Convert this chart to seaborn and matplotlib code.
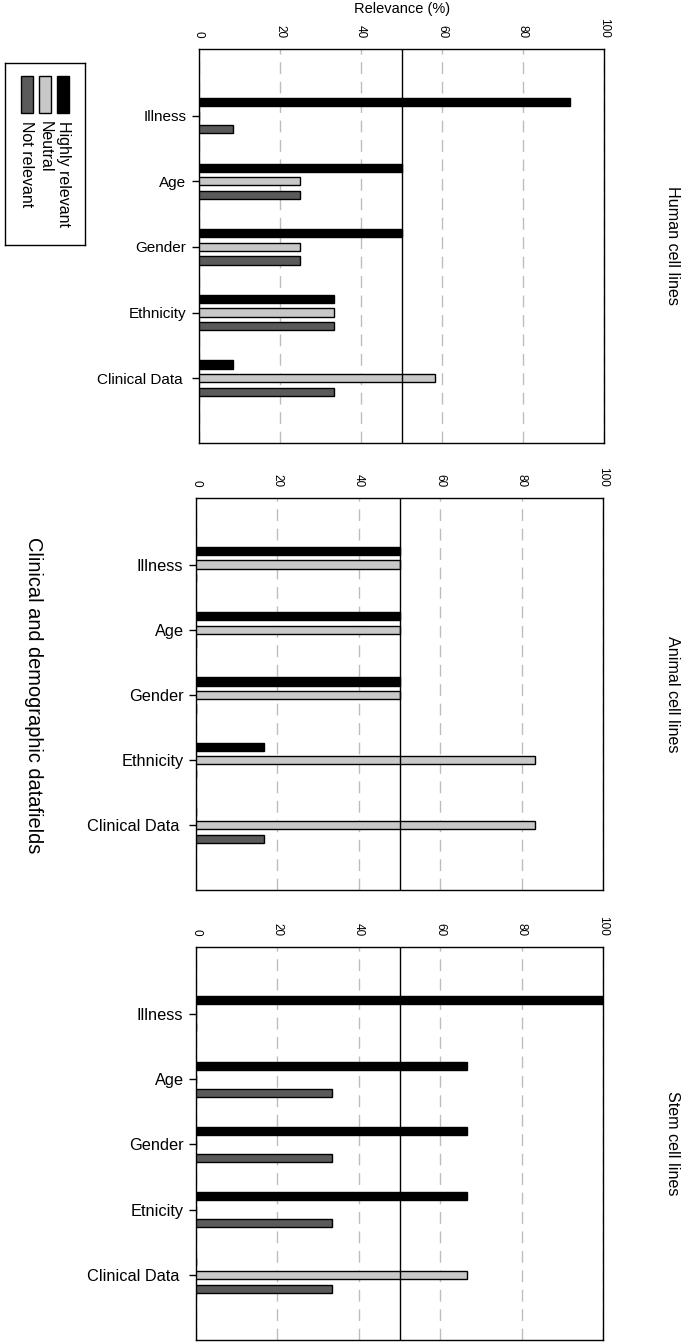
import numpy as np
import pandas as pd
import seaborn as sns
import matplotlib.pyplot as plt
from matplotlib.patches import Rectangle

# categories and relevance levels
fields_human = ["Illness", "Age", "Gender", "Ethnicity", "Clinical Data "]
fields_animal = ["Illness", "Age", "Gender", "Ethnicity", "Clinical Data "]
fields_stem = ["Illness", "Age", "Gender", "Etnicity", "Clinical Data "]
levels = ["Highly relevant", "Neutral", "Not relevant"]

# relevance (%) per field, one list per level
human_high = [91.7, 50.0, 50.0, 33.3, 8.3]
human_neutral = [0.0, 25.0, 25.0, 33.3, 58.3]
human_not = [8.3, 25.0, 25.0, 33.3, 33.3]

animal_high = [50.0, 50.0, 50.0, 16.7, 0.0]
animal_neutral = [50.0, 50.0, 50.0, 83.3, 83.3]
animal_not = [0.0, 0.0, 0.0, 0.0, 16.7]

stem_high = [100.0, 66.7, 66.7, 66.7, 0.0]
stem_neutral = [0.0, 0.0, 0.0, 0.0, 66.7]
stem_not = [0.0, 33.3, 33.3, 33.3, 33.3]

panel_titles = ["Human cell lines", "Animal cell lines", "Stem cell lines"]
threshold = 50
xticks = [0, 20, 40, 60, 80, 100]

colors = {"Highly relevant": "#000000", "Neutral": "#c8c8c8", "Not relevant": "#5a5a5a"}


def long_table(fields, high, neutral, notrel):
    rows = []
    for lev, vals in zip(levels, [high, neutral, notrel]):
        for f, v in zip(fields, vals):
            rows.append({"field": f, "level": lev, "value": v})
    return pd.DataFrame(rows)


panels = [
    long_table(fields_human, human_high, human_neutral, human_not),
    long_table(fields_animal, animal_high, animal_neutral, animal_not),
    long_table(fields_stem, stem_high, stem_neutral, stem_not),
]
panel_fields = [fields_human, fields_animal, fields_stem]

sns.set_style("white")
plt.rcParams["font.family"] = ["Liberation Sans", "DejaVu Sans"]
plt.rcParams["text.color"] = "black"
plt.rcParams["xtick.color"] = "black"
plt.rcParams["ytick.color"] = "black"
plt.rcParams["axes.labelcolor"] = "black"

W, H = 684, 1344
fig = plt.figure(figsize=(W / 100, H / 100), dpi=100)

# axes boxes in pixels: left, top, right, bottom
boxes = [(199, 49, 604, 443), (196, 498, 603, 890), (196, 947, 603, 1340)]
label_sizes = [11, 11.8, 11.8]

for i, (df, box) in enumerate(zip(panels, boxes)):
    l, t, r, b = box
    ax = fig.add_axes([l / W, 1 - b / H, (r - l) / W, (b - t) / H])
    sns.barplot(data=df, x="value", y="field", hue="level", hue_order=levels,
                order=panel_fields[i], palette=colors, orient="h",
                width=0.62, gap=0.4, edgecolor="black", linewidth=1.0,
                legend=False, ax=ax, zorder=3)
    ax.set_xlim(0, 100)
    ax.set_ylim(4.99, -1.02)
    ax.set_xticks(xticks)
    ax.set_xticklabels([str(v) for v in xticks], rotation=-90)
    ax.xaxis.tick_top()
    ax.tick_params(axis="x", length=0, pad=8, labelsize=8.5)
    ax.tick_params(axis="y", left=True, length=5, width=1, pad=4,
                   labelsize=label_sizes[i], color="black")
    ax.set_xlabel("")
    ax.set_ylabel("")
    ax.grid(axis="x", color="#bdbdbd", linestyle=(0, (8.5, 5.5)), linewidth=1.0)
    ax.set_axisbelow(True)
    ax.axvline(threshold, color="black", linewidth=1.0, zorder=5)
    for sp in ax.spines.values():
        sp.set_visible(True)
        sp.set_color("black")
        sp.set_linewidth(1.0)
    fig.text(672 / W, 1 - (t + b) / 2 / H, panel_titles[i], rotation=-90,
             ha="center", va="center", fontsize=11.6)

fig.text(402 / W, 1 - 9 / H, "Relevance (%)", ha="center", va="center", fontsize=10.5)
fig.text(33 / W, 1 - 695 / H, "Clinical and demographic datafields", rotation=-90,
         ha="center", va="center", fontsize=14.4)

# rotated legend drawn by hand
lg = fig.add_axes([5 / W, 1 - 245 / H, 80 / W, 182 / H])
lg.set_xlim(0, 80)
lg.set_ylim(182, 0)
lg.set_xticks([])
lg.set_yticks([])
for sp in lg.spines.values():
    sp.set_visible(True)
    sp.set_color("black")
    sp.set_linewidth(1.0)
for lev, xpos in zip(levels, [52, 34, 16]):
    lg.add_patch(Rectangle((xpos, 13), 12, 37, facecolor=colors[lev],
                           edgecolor="black", linewidth=1.0))
    lg.text(xpos + 6, 58, lev, rotation=-90, rotation_mode="anchor",
            ha="left", va="center", fontsize=11.5)

fig.savefig("out.png", dpi=100)
